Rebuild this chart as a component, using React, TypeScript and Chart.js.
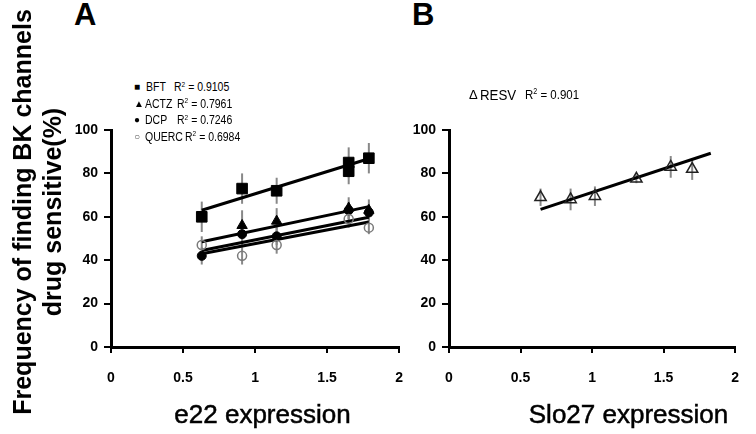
import React, { useEffect, useRef } from "react";
import { Chart, registerables } from "chart.js";

Chart.register(...registerables);

// ---------- data ----------
const xTicks = [0, 0.5, 1, 1.5, 2];
const yTicks = [0, 20, 40, 60, 80, 100];

// Panel A (e22 expression)
const bftX = [0.63, 0.91, 1.15, 1.65, 1.65, 1.79];
const bftY = [60, 73, 72, 85, 81, 87];
const bftErr = [7, 7, 6, 7, 6, 7];

const actzX = [0.91, 1.15, 1.65, 1.79];
const actzY = [56, 58, 64, 63];
const actzErr = [7, 6, 5, 5];

const dcpX = [0.63, 0.91, 1.15, 1.65, 1.79];
const dcpY = [42, 52, 51, 63, 62];
const dcpErr = [4, 5, 4, 4, 4];

const quercX = [0.63, 0.91, 1.15, 1.65, 1.79];
const quercY = [47, 42, 47, 59, 55];
const quercErr = [4, 4, 4, 4, 3];

const bftFitX = [0.63, 1.8];
const bftFitY = [63, 87];
const actzFitX = [0.63, 1.79];
const actzFitY = [48.5, 64.7];
const dcpFitX = [0.63, 1.79];
const dcpFitY = [44.5, 59.8];
const quercFitX = [0.63, 1.79];
const quercFitY = [43, 57.6];

// Panel B (Slo27 expression)
const resvX = [0.64, 0.85, 1.02, 1.31, 1.55, 1.7];
const resvY = [69, 68, 69.5, 77.5, 83, 82];
const resvErr = [4, 5, 4.5, 2, 5, 5];
const resvFitX = [0.64, 1.83];
const resvFitY = [63.4, 89.3];

// Legend text
const legendMarkersA = ["■", "▲", "●", "○"];
const legendNamesA = ["BFT", "ACTZ", "DCP", "QUERC"];
const legendR2A = ["0.9105", "0.7961", "0.7246", "0.6984"];
const legendNameB = "RESV";
const legendR2B = "0.901";

const yTitleLines = ["Frequency of finding BK channels", "drug sensitive(%)"];
const xTitleA = "e22 expression";
const xTitleB = "Slo27 expression";

// ---------- helpers ----------
const FONT = '"Liberation Sans", Arial, Helvetica, sans-serif';

const zip = (xs: number[], ys: number[]) => xs.map((x, i) => ({ x, y: ys[i] }));

const errorBarPlugin = {
  id: "errBars",
  beforeDatasetsDraw(chart: any) {
    const { ctx } = chart;
    const xs = chart.scales.x;
    const ys = chart.scales.y;
    ctx.save();
    ctx.strokeStyle = "#888";
    ctx.lineWidth = 2;
    chart.data.datasets.forEach((ds: any) => {
      if (!ds.errors) return;
      ds.data.forEach((p: any, i: number) => {
        const e = ds.errors[i];
        const px = xs.getPixelForValue(p.x);
        ctx.beginPath();
        ctx.moveTo(px, ys.getPixelForValue(p.y + e));
        ctx.lineTo(px, ys.getPixelForValue(p.y - e));
        ctx.stroke();
      });
    });
    ctx.restore();
  },
};

function pointsDs(xs: number[], ys: number[], errs: number[], style: any) {
  return {
    data: zip(xs, ys),
    errors: errs,
    showLine: false,
    ...style,
  };
}

function fitDs(xs: number[], ys: number[]) {
  return {
    data: zip(xs, ys),
    showLine: true,
    pointRadius: 0,
    borderColor: "#000",
    borderWidth: 3,
    backgroundColor: "#000",
  };
}

function makeConfig(datasets: any[], yAxisWidth: number, rightPad: number) {
  const tickFont = { family: FONT, size: 14, weight: "bold" as const };
  return {
    type: "scatter" as const,
    data: { datasets },
    plugins: [errorBarPlugin],
    options: {
      responsive: false,
      animation: false as const,
      devicePixelRatio: 1,
      layout: { padding: { top: 30, right: rightPad, left: 0, bottom: 0 } },
      plugins: { legend: { display: false }, tooltip: { enabled: false } },
      scales: {
        x: {
          type: "linear" as const,
          min: 0,
          max: 2,
          afterBuildTicks: (s: any) => {
            s.ticks = xTicks.map((v) => ({ value: v }));
          },
          afterFit: (s: any) => {
            s.height = 53;
          },
          ticks: {
            font: tickFont,
            color: "#000",
            padding: 17,
            maxRotation: 0,
            autoSkip: false,
            callback: (v: any) => String(v),
          },
          grid: { drawOnChartArea: false, drawTicks: true, tickLength: 6, color: "#000", lineWidth: 2 },
          border: { color: "#000", width: 3 },
        },
        y: {
          type: "linear" as const,
          min: 0,
          max: 100,
          afterBuildTicks: (s: any) => {
            s.ticks = yTicks.map((v) => ({ value: v }));
          },
          afterFit: (s: any) => {
            s.width = yAxisWidth;
          },
          ticks: {
            font: tickFont,
            color: "#000",
            padding: 6,
            autoSkip: false,
            callback: (v: any) => String(v),
          },
          grid: { drawOnChartArea: false, drawTicks: true, tickLength: 7, color: "#000", lineWidth: 2 },
          border: { color: "#000", width: 3 },
        },
      },
    },
  };
}

function ChartBox(props: { left: number; top: number; width: number; height: number; make: () => any }) {
  const ref = useRef<HTMLCanvasElement>(null);
  useEffect(() => {
    const chart = new Chart(ref.current as HTMLCanvasElement, props.make());
    return () => chart.destroy();
  }, []);
  return (
    <canvas
      ref={ref}
      width={props.width}
      height={props.height}
      style={{ position: "absolute", left: props.left, top: props.top, width: props.width, height: props.height }}
    />
  );
}

const Sup2 = () => (
  <span style={{ fontSize: "0.62em", position: "relative", top: "-0.55em" }}>2</span>
);

function LegendRow(props: { y: number; marker: string; name: string; r2: string; nameX: number; rX: number; size: number; markerColor?: string }) {
  const lh = 16;
  const top = props.y - lh / 2;
  const base: React.CSSProperties = {
    position: "absolute",
    top,
    lineHeight: lh + "px",
    fontFamily: FONT,
    fontSize: props.size,
    whiteSpace: "pre",
    color: "#000",
    transform: "scaleX(0.84)",
    transformOrigin: "left center",
  };
  return (
    <>
      <div style={{ ...base, left: 134, transform: "none", fontSize: 10, color: props.markerColor || "#000" }}>{props.marker}</div>
      <div style={{ ...base, left: props.nameX }}>{props.name}</div>
      <div style={{ ...base, left: props.rX }}>
        R<Sup2 /> = {props.r2}
      </div>
    </>
  );
}

export default function App() {
  const makeA = () =>
    makeConfig(
      [
        pointsDs(bftX, bftY, bftErr, { pointStyle: "rect", pointRadius: 7.5, backgroundColor: "#000", borderColor: "#000", borderWidth: 1 }),
        pointsDs(quercX, quercY, quercErr, { pointStyle: "circle", pointRadius: 4.5, backgroundColor: "rgba(255,255,255,0)", borderColor: "#7a7a7a", borderWidth: 1.5 }),
        pointsDs(dcpX, dcpY, dcpErr, { pointStyle: "circle", pointRadius: 4.5, backgroundColor: "#000", borderColor: "#000", borderWidth: 1 }),
        pointsDs(actzX, actzY, actzErr, { pointStyle: "triangle", pointRadius: 6, backgroundColor: "#000", borderColor: "#000", borderWidth: 1 }),
        fitDs(bftFitX, bftFitY),
        fitDs(actzFitX, actzFitY),
        fitDs(dcpFitX, dcpFitY),
        fitDs(quercFitX, quercFitY),
      ],
      51,
      20
    );
  const makeB = () =>
    makeConfig(
      [
        pointsDs(resvX, resvY, resvErr, { pointStyle: "triangle", pointRadius: 6.5, backgroundColor: "rgba(255,255,255,0)", borderColor: "#222", borderWidth: 1.5 }),
        fitDs(resvFitX, resvFitY),
      ],
      49,
      15
    );

  const rowYs = [87, 103.5, 120, 136.5];
  const nameXs = [146, 145, 145, 145];
  const rXs = [174, 177, 177, 185];

  const xTitleStyle: React.CSSProperties = {
    position: "absolute",
    top: 399,
    width: 300,
    textAlign: "center",
    fontFamily: FONT,
    fontSize: 26,
    lineHeight: "30px",
    color: "#000",
    WebkitTextStroke: "0.5px #000",
  };

  return (
    <div style={{ position: "absolute", left: 0, top: 0, width: 756, height: 434, background: "#fff", overflow: "hidden" }}>
      <ChartBox left={60} top={100} width={360} height={300} make={makeA} />
      <ChartBox left={400} top={100} width={356} height={300} make={makeB} />

      {/* y title */}
      <div
        style={{
          position: "absolute",
          left: 37 - 210,
          top: 212 - 30,
          width: 420,
          height: 60,
          transform: "rotate(-90deg)",
          transformOrigin: "center center",
          textAlign: "center",
          fontFamily: FONT,
          fontWeight: "bold",
          fontSize: 25,
          lineHeight: "30px",
          color: "#000",
          whiteSpace: "nowrap",
        }}
      >
        <div>{yTitleLines[0]}</div>
        <div>{yTitleLines[1]}</div>
      </div>

      {/* panel letters */}
      <div style={{ position: "absolute", left: 74, top: -1, fontFamily: FONT, fontWeight: "bold", fontSize: 31, lineHeight: "31px" }}>A</div>
      <div style={{ position: "absolute", left: 412, top: -1, fontFamily: FONT, fontWeight: "bold", fontSize: 31, lineHeight: "31px" }}>B</div>

      {/* x titles */}
      <div style={{ ...xTitleStyle, left: 262.5 - 150 }}>{xTitleA}</div>
      <div style={{ ...xTitleStyle, left: 628.5 - 150 }}>{xTitleB}</div>

      {/* legend A */}
      {legendNamesA.map((n, i) => (
        <LegendRow
          key={n}
          y={rowYs[i]}
          marker={legendMarkersA[i]}
          name={n}
          r2={legendR2A[i]}
          nameX={nameXs[i]}
          rX={rXs[i]}
          size={12.5}
          markerColor={i === 3 ? "#555" : "#000"}
        />
      ))}

      {/* legend B */}
      <div style={{ position: "absolute", left: 469, top: 95 - 8, lineHeight: "16px", fontFamily: FONT, fontSize: 13, whiteSpace: "pre" }}>Δ</div>
      <div style={{ position: "absolute", left: 480, top: 95 - 8, lineHeight: "16px", fontFamily: FONT, fontSize: 14, whiteSpace: "pre", transform: "scaleX(0.95)", transformOrigin: "left center" }}>{legendNameB}</div>
      <div style={{ position: "absolute", left: 525, top: 95 - 8, lineHeight: "16px", fontFamily: FONT, fontSize: 13.5, whiteSpace: "pre", transform: "scaleX(0.85)", transformOrigin: "left center" }}>
        R<Sup2 /> = {legendR2B}
      </div>
    </div>
  );
}
